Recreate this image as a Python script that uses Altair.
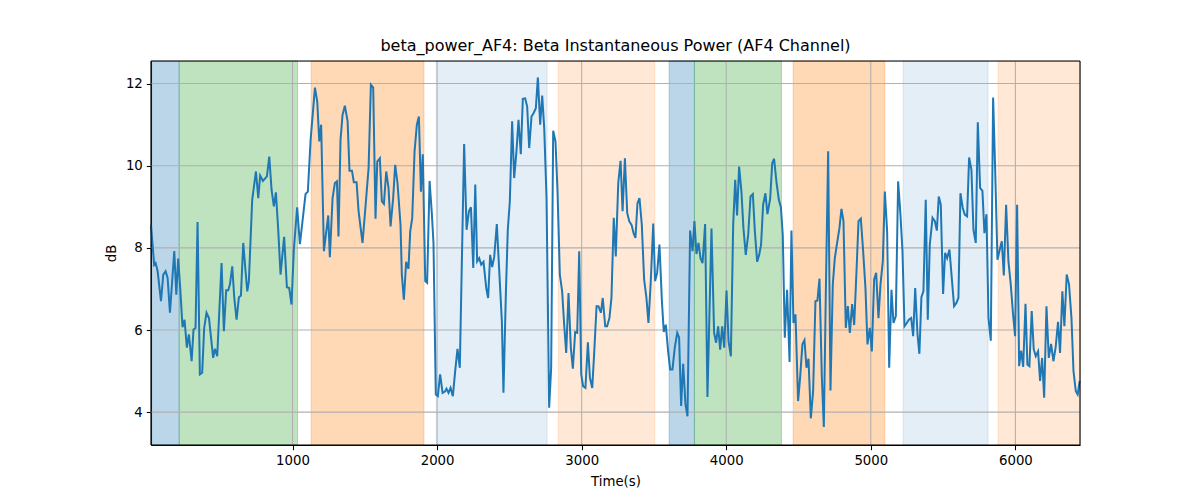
import altair as alt
import pandas as pd

# ---- data ----
times = [21, 43, 53, 67, 90, 106, 122, 136, 152, 182, 196, 209, 223, 239, 253, 269, 283, 302, 315, 329,
         343, 359, 375, 389, 405, 422, 451, 463, 479, 509, 525, 541, 555, 567, 583, 597, 613, 629, 643, 659,
         675, 687, 698, 721, 747, 763, 776, 795, 823, 839, 855, 871, 885, 901, 917, 942, 961, 977, 993, 1009,
         1032, 1051, 1069, 1090,
         1106, 1125, 1155, 1171, 1185, 1198, 1217, 1247, 1258, 1277, 1293, 1307, 1318, 1332, 1346, 1362, 1381,
         1394, 1411, 1424, 1443, 1457, 1484, 1503, 1526, 1542, 1558, 1574, 1586, 1604, 1618, 1632, 1648, 1664,
         1678, 1696, 1710, 1726, 1747, 1756, 1770, 1786, 1802, 1814, 1828, 1844, 1860, 1874, 1888, 1901, 1918,
         1931, 1948, 1964, 1975, 1991, 2005, 2021, 2038, 2054, 2065, 2079, 2093, 2109, 2125, 2141, 2157,
         2187, 2204, 2220, 2234, 2250, 2264, 2277, 2291, 2305, 2321, 2340, 2353, 2367, 2381, 2395, 2413, 2436,
         2448, 2459, 2476, 2489, 2503, 2519, 2533, 2549, 2563, 2579, 2593, 2609, 2623, 2637, 2653, 2667, 2683,
         2697, 2713, 2727, 2741, 2757, 2775, 2789, 2803, 2819, 2833, 2849, 2865, 2879, 2893, 2909, 2925, 2939,
         2955, 2969, 2983, 2997, 3010, 3026, 3043, 3057, 3073, 3086, 3103, 3116, 3133, 3146, 3163, 3176, 3192,
         3206, 3222, 3236,
         3253, 3269, 3283, 3299, 3315, 3329, 3345, 3359, 3372, 3386, 3400, 3416, 3432, 3448, 3462, 3478, 3495,
         3508, 3522, 3538, 3555, 3568, 3582, 3598, 3612, 3628, 3644, 3661, 3674, 3688, 3702, 3718, 3732, 3750,
         3767, 3780, 3794, 3808, 3822, 3836, 3854, 3870, 3898, 3916, 3930, 3944, 3958, 3972, 3986, 4002, 4016,
         4032, 4048, 4062, 4075, 4089, 4105, 4119, 4135, 4152, 4168, 4184, 4198, 4214, 4228, 4241, 4255, 4271,
         4285, 4304, 4318, 4331,
         4348, 4364, 4378, 4391, 4405, 4421, 4438, 4451, 4465, 4479, 4497, 4511, 4527, 4541, 4555, 4569, 4585,
         4601, 4617, 4631, 4645, 4661, 4675, 4689, 4705, 4721, 4737, 4751, 4767, 4783, 4797, 4811, 4827, 4841,
         4855, 4871, 4885, 4901, 4915, 4931, 4947, 4963, 4977, 4993, 5007, 5023, 5037, 5053, 5067, 5083, 5097,
         5113, 5127, 5143, 5157, 5173, 5189, 5205, 5219, 5233, 5249, 5263, 5279, 5293, 5307, 5323, 5336, 5350,
         5364, 5380,
         5394, 5408, 5427, 5443, 5457, 5470, 5484, 5500, 5514, 5528, 5544, 5560, 5576, 5592, 5606, 5620, 5636,
         5650, 5666, 5680, 5696, 5710, 5726, 5740, 5756, 5772, 5786, 5800, 5814, 5830, 5846, 5860, 5876, 5892,
         5906, 5920, 5936, 5952, 5968, 5984, 5998, 6012, 6026, 6040, 6054, 6070, 6083, 6097, 6113, 6127, 6141,
         6157, 6171, 6185, 6199, 6215, 6231, 6247, 6263, 6279, 6295, 6309, 6325, 6339, 6355, 6371, 6388, 6402,
         6418, 6431, 6445]

db = [8.56, 7.59, 7.63, 7.43, 6.70, 7.35, 7.43, 7.27, 6.42, 7.92, 6.86, 7.74, 7.02, 6.07, 6.25, 5.57, 5.89, 5.24, 6.01, 6.05,
      8.63, 4.92, 4.96, 6.05, 6.42, 6.29, 5.32, 5.54, 5.36, 7.63, 5.97, 6.97, 6.97, 7.11, 7.55, 6.78, 6.25, 6.80, 6.84, 8.12,
      7.43, 6.94, 7.19, 9.17, 9.86, 9.21, 9.76, 9.63, 9.74, 10.22, 9.41, 9.01, 9.35, 8.44, 7.35, 8.27, 7.04, 7.02, 6.62, 7.96,
      8.99, 8.09, 8.65, 9.31,
      9.37, 10.63, 11.90, 11.56, 10.59, 11.00, 7.92, 8.79, 7.77, 9.21, 9.58, 9.62, 8.28, 10.63, 11.24, 11.46, 11.08,
      9.88, 9.88, 9.60, 9.60, 8.89, 8.12, 8.93, 9.94, 11.97, 11.90, 8.71, 10.10, 10.18, 9.13, 9.07, 9.86, 9.46,
      8.52, 9.21, 10.02, 9.58, 8.56, 7.35, 6.74, 7.66, 7.49, 8.40, 8.73, 10.35, 11.00, 11.20, 9.37, 10.28, 7.19,
      7.15, 9.63, 8.81, 8.12, 4.43, 4.39, 4.92, 4.47, 4.50, 4.57, 4.47, 4.59, 4.39, 5.00, 5.54, 5.08,
      10.53, 8.44, 8.89, 8.99, 7.51, 9.54, 7.67, 7.75, 7.59, 7.66, 7.02, 6.78, 7.83, 7.53, 7.78, 8.58, 7.02,
      6.21, 4.47, 6.94, 8.44, 9.13, 11.08, 9.70, 10.35, 11.12, 10.28, 11.63, 11.64, 11.44, 10.43, 11.20, 11.28, 11.40,
      12.15, 11.00, 11.71, 10.91, 9.21, 4.11, 5.08, 10.85, 10.59, 9.37, 7.35, 6.94, 6.13, 5.44, 6.90, 5.57, 5.06,
      5.95, 5.93, 7.92, 4.92, 4.63, 4.59, 5.70, 4.84, 4.59, 5.40, 6.58, 6.58, 6.42, 6.78, 6.09, 6.09, 6.29,
      6.78, 8.73, 7.79,
      9.58, 10.12, 8.89, 10.18, 8.85, 8.65, 8.56, 8.36, 8.24, 9.09, 9.21, 8.56, 7.23, 6.78, 6.17, 7.19, 8.59,
      7.19, 7.39, 8.08, 6.70, 5.95, 6.13, 5.48, 5.04, 5.04, 5.57, 5.93, 5.81, 4.15, 5.18, 4.19, 3.90, 8.42,
      7.92, 8.65, 7.85, 8.12, 7.75, 7.63, 8.58, 4.37, 8.47, 5.93, 5.69, 6.09, 5.52, 6.09, 5.57, 6.96, 5.73,
      5.36, 8.56, 9.66, 8.79, 9.98, 9.37, 8.48, 7.83, 8.32, 9.25, 9.31, 8.40, 7.66, 7.83, 8.08, 9.05, 9.33,
      8.82, 9.20, 10.06, 10.17,
      9.58, 9.17, 8.99, 8.32, 5.81, 6.98, 5.22, 8.42, 6.17, 6.38, 4.27, 4.84, 5.65, 5.75, 5.08, 5.30, 3.85,
      4.51, 6.70, 6.72, 7.25, 4.88, 3.64, 6.94, 10.35, 4.53, 7.11, 7.75, 8.12, 8.48, 8.95, 8.65, 6.05, 6.58,
      5.93, 6.63, 6.12, 7.43, 8.65, 8.71, 7.92, 7.02, 5.65, 6.05, 5.48, 7.23, 7.39, 6.29, 7.11, 7.67, 9.37,
      8.40, 5.08, 6.98, 6.17, 6.34, 9.62, 8.81, 7.92, 6.09, 6.17, 6.25, 6.29, 5.85, 7.02, 5.89, 5.42, 6.80,
      6.94, 9.17,
      6.25, 8.08, 8.73, 8.65, 8.42, 9.25, 9.05, 6.88, 7.88, 7.75, 7.96, 7.27, 6.58, 6.66, 6.78, 9.33, 8.97,
      8.81, 8.77, 10.20, 9.90, 8.44, 8.12, 11.06, 9.46, 9.39, 8.36, 8.82, 6.29, 5.74, 11.66, 9.94, 7.71, 7.96,
      8.16, 7.33, 9.05, 7.67, 7.11, 6.38, 5.85, 9.05, 5.12, 5.50, 5.10, 6.64, 5.16, 5.12, 6.46, 5.53, 5.36,
      5.48, 4.76, 5.32, 4.35, 6.58, 5.32, 5.66, 5.24, 5.59, 6.20, 5.44, 6.94, 6.09, 7.35, 7.11, 6.29, 5.00,
      4.51, 4.43, 4.76]

span_start = [21, 216, 1129, 1995, 2838, 3605, 3780, 4463, 5223, 5880]
span_end = [216, 1035, 1909, 2761, 3506, 3780, 4382, 5097, 5811, 6447]
span_color = ["#1f77b4", "#2ca02c", "#ff7f0e", "#1f77b4", "#ff7f0e",
              "#1f77b4", "#2ca02c", "#ff7f0e", "#1f77b4", "#ff7f0e"]
span_alpha = [0.3, 0.3, 0.3, 0.12, 0.17, 0.3, 0.3, 0.3, 0.12, 0.17]

x_ticks = [1000, 2000, 3000, 4000, 5000, 6000]
y_ticks = [4, 6, 8, 10, 12]
x_domain = [21, 6447]
y_domain = [3.2, 12.55]

W, H = 929, 384
FONT = "DejaVu Sans"

line_df = pd.DataFrame({"t": times, "v": db})
span_df = pd.DataFrame({"s": span_start, "e": span_end, "c": span_color, "a": span_alpha})
xg_df = pd.DataFrame({"t": x_ticks})
yg_df = pd.DataFrame({"v": y_ticks})

xscale = alt.Scale(domain=x_domain, nice=False, zero=False)
yscale = alt.Scale(domain=y_domain, nice=False, zero=False)

xaxis = alt.Axis(values=x_ticks, grid=False, title="Time(s)", format="d",
                 tickSize=4.7, labelPadding=4, titlePadding=7,
                 domainColor="black", tickColor="black", labelColor="black", titleColor="black",
                 labelFont=FONT, titleFont=FONT, labelFontSize=13.3, titleFontSize=13.3,
                 titleFontWeight="normal", domainWidth=1.07, tickWidth=1.07)
yaxis = alt.Axis(values=y_ticks, grid=False, title="dB", format="d",
                 tickSize=4.7, labelPadding=4, titlePadding=7,
                 domainColor="black", tickColor="black", labelColor="black", titleColor="black",
                 labelFont=FONT, titleFont=FONT, labelFontSize=13.3, titleFontSize=13.3,
                 titleFontWeight="normal", domainWidth=1.07, tickWidth=1.07)

spans = alt.Chart(span_df).mark_rect(strokeWidth=1).encode(
    x=alt.X("s:Q", scale=xscale, axis=xaxis),
    x2="e:Q",
    y=alt.value(0),
    y2=alt.value(H),
    fill=alt.Fill("c:N", scale=None),
    stroke=alt.Stroke("c:N", scale=None),
    fillOpacity=alt.FillOpacity("a:Q", scale=None),
    strokeOpacity=alt.StrokeOpacity("a:Q", scale=None),
)

xgrid = alt.Chart(xg_df).mark_rule(color="#b0b0b0", strokeWidth=1.07).encode(
    x=alt.X("t:Q", scale=xscale), y=alt.value(0), y2=alt.value(H))
ygrid = alt.Chart(yg_df).mark_rule(color="#b0b0b0", strokeWidth=1.07).encode(
    y=alt.Y("v:Q", scale=yscale, axis=yaxis), x=alt.value(0), x2=alt.value(W))

line = alt.Chart(line_df).mark_line(color="#1f77b4", strokeWidth=2).encode(
    x=alt.X("t:Q", scale=xscale),
    y=alt.Y("v:Q", scale=yscale),
)

frame_df = pd.DataFrame({"k": [0]})
top = alt.Chart(frame_df).mark_rule(color="black", strokeWidth=1.07).encode(
    x=alt.value(0), x2=alt.value(W), y=alt.value(0))
bottom = alt.Chart(frame_df).mark_rule(color="black", strokeWidth=1.07).encode(
    x=alt.value(0), x2=alt.value(W), y=alt.value(H))
left = alt.Chart(frame_df).mark_rule(color="black", strokeWidth=1.07).encode(
    x=alt.value(0), y=alt.value(0), y2=alt.value(H))
right = alt.Chart(frame_df).mark_rule(color="black", strokeWidth=1.07).encode(
    x=alt.value(W), y=alt.value(0), y2=alt.value(H))

chart = alt.layer(spans, xgrid, ygrid, line, top, bottom, left, right).properties(
    width=W, height=H,
    title=alt.TitleParams("beta_power_AF4: Beta Instantaneous Power (AF4 Channel)",
                          font=FONT, fontSize=16, fontWeight="normal", color="black",
                          anchor="middle", frame="group", offset=6),
    autosize=alt.AutoSizeParams(type="none"),
    padding={"left": 143, "top": 53, "right": 112, "bottom": 47},
).configure_view(stroke=None).configure(background="white")

chart.save("out.html", embed_options={"renderer": "svg", "actions": False})
